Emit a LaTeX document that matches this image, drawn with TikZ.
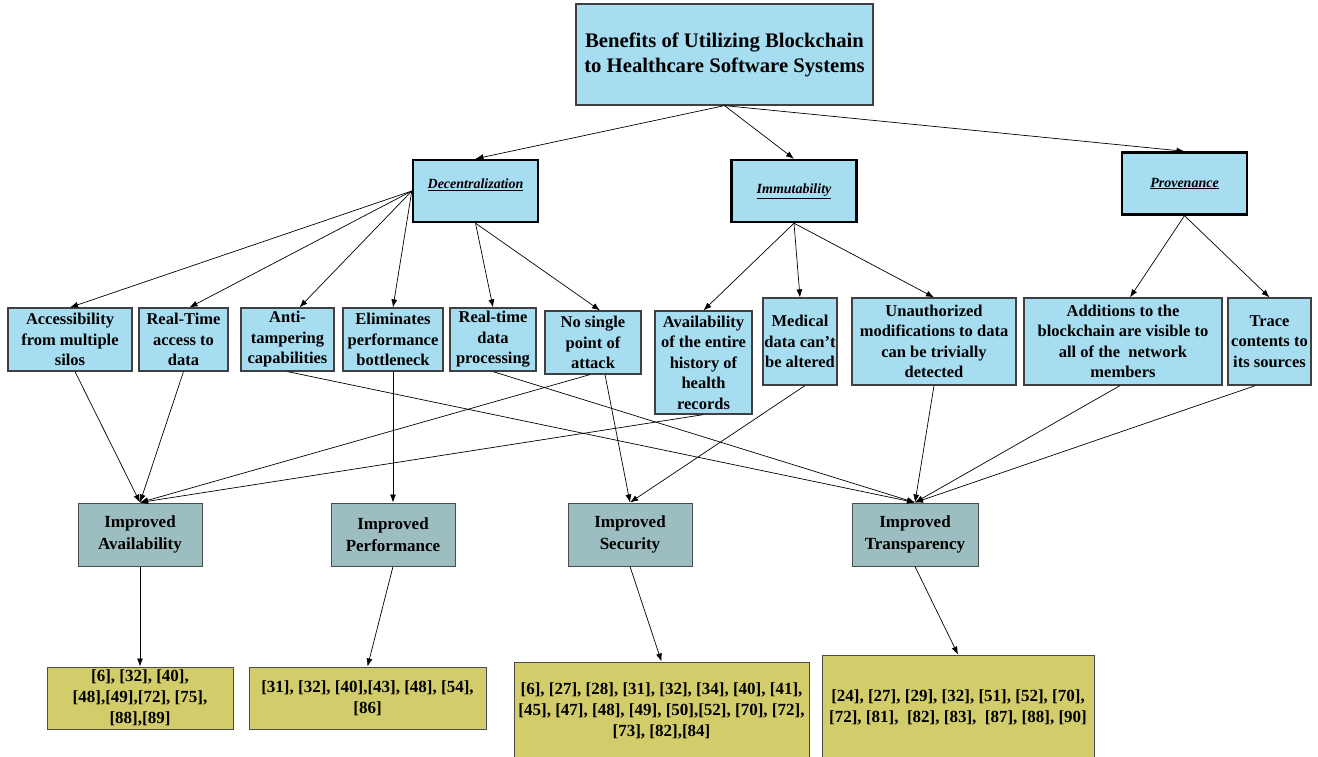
\documentclass[tikz,border=0pt]{standalone}
\usepackage{fontspec}
\setmainfont{Liberation Serif}
\usetikzlibrary{arrows.meta}
\definecolor{boxblue}{RGB}{166,221,241}
\definecolor{improvedgray}{RGB}{156,190,192}
\definecolor{refolive}{RGB}{210,204,106}
\tikzset{
  benefit/.style={draw=black!75,line width=1.2pt,fill=boxblue,align=center,inner sep=1pt,
    font=\bfseries\fontsize{16.5}{20.5}\selectfont},
  category/.style={draw=black,line width=2.4pt,fill=boxblue,minimum width=125pt,minimum height=62pt,
    font=\bfseries\itshape\fontsize{14}{16}\selectfont},
  improved/.style={draw=black!70,line width=1pt,fill=improvedgray,align=center,
    minimum width=124pt,minimum height=63pt,font=\bfseries\fontsize{17}{22}\selectfont},
  refs/.style={draw=black!70,line width=1pt,fill=refolive,align=center,inner sep=1pt,
    font=\bfseries\fontsize{17}{21}\selectfont},
  link/.style={-{Latex[length=8pt,width=6pt]},line width=0.7pt},
}

\begin{document}
\begin{tikzpicture}[x=1pt,y=-1pt]
    \useasboundingbox (0,0) rectangle (1318,757);
    % root and the three properties
    \node[benefit,minimum width=297pt,minimum height=101pt,font=\bfseries\fontsize{20.7}{25}\selectfont]
      (root) at (724.5,54.5) {Benefits of Utilizing Blockchain\\to Healthcare Software Systems};
    \node[category] (dec) at (475.5,191) {\raisebox{14pt}{\underline{Decentralization}}};
    \node[category] (imm) at (794,191) {\underline{Immutability}};
    \node[category] (prov) at (1184.5,183.5) {\underline{Provenance}};
    \draw[link] (root.south) -- (dec.north);
    \draw[link] (root.south) -- (imm.north);
    \draw[link] (root.south) -- (prov.north);

    % benefits
    \node[benefit,minimum width=124pt,minimum height=63pt] (acc) at (70,339.5) {Accessibility\\from multiple\\silos};
    \node[benefit,minimum width=89pt,minimum height=63pt] (rta) at (183.5,339.5) {Real-Time\\access to\\data};
    \node[benefit,minimum width=93pt,minimum height=63pt] (ant) at (287.5,339.5) {Anti-\\tampering\\capabilities};
    \node[benefit,minimum width=100pt,minimum height=63pt] (eli) at (393,339.5) {Eliminates\\performance\\bottleneck};
    \node[benefit,minimum width=86pt,minimum height=63pt] (rtd) at (493,339.5) {Real-time\\data\\processing};
    \node[benefit,minimum width=96pt,minimum height=63pt] (nsp) at (593,342.5) {No single\\point of\\attack};
    \node[benefit,minimum width=97pt,minimum height=103pt] (avh) at (703.5,362.5) {Availability\\of the entire\\history of\\health\\records};
    \node[benefit,minimum width=74pt,minimum height=87pt] (med) at (800,341.5) {Medical\\data can’t\\be altered};
    \node[benefit,minimum width=164pt,minimum height=87pt] (una) at (934,341.5) {Unauthorized\\modifications to data\\can be trivially\\detected};
    \node[benefit,minimum width=198pt,minimum height=87pt] (add) at (1123,341.5) {Additions to the\\blockchain are visible to\\all of the~ network\\members};
    \node[benefit,minimum width=83pt,minimum height=87pt] (tra) at (1269.5,341.5) {Trace\\contents to\\its sources};

    \draw[link] (dec.west) -- (acc.north);
    \draw[link] (dec.west) -- ([xshift=6pt]rta.north);
    \draw[link] (dec.west) -- ([xshift=12pt]ant.north);
    \draw[link] (dec.west) -- (eli.north);
    \draw[link] (dec.south) -- (rtd.north);
    \draw[link] (dec.south) -- ([xshift=7pt]nsp.north);
    \draw[link] (imm.south) -- (avh.north);
    \draw[link] (imm.south) -- (med.north);
    \draw[link] (imm.south) -- (una.north);
    \draw[link] (prov.south) -- ([xshift=7pt]add.north);
    \draw[link] (prov.south) -- (tra.north);

    % outcomes
    \node[improved] (ia) at (140,534.5) {Improved\\Availability};
    \node[improved] (ip) at (393,534.5) {Improved\\Performance};
    \node[improved] (is) at (630,534.5) {Improved\\Security};
    \node[improved,minimum width=126pt] (it) at (915,534.5) {Improved\\Transparency};

    \draw[link] ([xshift=5pt]acc.south) -- (ia.north);
    \draw[link] (rta.south) -- (ia.north);
    \draw[link] ([xshift=-3pt]nsp.south) -- (ia.north);
    \draw[link] (avh.south) -- (ia.north);
    \draw[link] (eli.south) -- (ip.north);
    \draw[link] ([xshift=12pt]nsp.south) -- (is.north);
    \draw[link] ([xshift=5pt]med.south) -- (is.north);
    \draw[link] (ant.south) -- (it.north);
    \draw[link] (rtd.south) -- (it.north);
    \draw[link] (una.south) -- (it.north);
    \draw[link] ([xshift=-3pt]add.south) -- (it.north);
    \draw[link] ([xshift=-14pt]tra.south) -- (it.north);

    % references
    \node[refs,minimum width=186pt,minimum height=62pt] (ra) at (140,698) {[6], [32], [40],\\{}[48],[49],[72], [75],\\{}[88],[89]};
    \node[refs,minimum width=237pt,minimum height=62pt] (rp) at (367.5,698) {[31], [32], [40],[43], [48], [54],\\{}[86]};
    \node[refs,minimum width=295pt,minimum height=98pt] (rs) at (661.5,711) {[6], [27], [28], [31], [32], [34], [40], [41],\\{}[45], [47], [48], [49], [50],[52], [70], [72],\\{}[73], [82],[84]};
    \node[refs,minimum width=272pt,minimum height=105pt] (rt) at (958,707.5) {[24], [27], [29], [32], [51], [52], [70],\\{}[72], [81],~ [82], [83],~ [87], [88], [90]};

    \draw[link] (ia.south) -- (ra.north);
    \draw[link] (ip.south) -- (rp.north);
    \draw[link] (is.south) -- (rs.north);
    \draw[link] (it.south) -- (rt.north);
  \end{tikzpicture}
\end{document}
